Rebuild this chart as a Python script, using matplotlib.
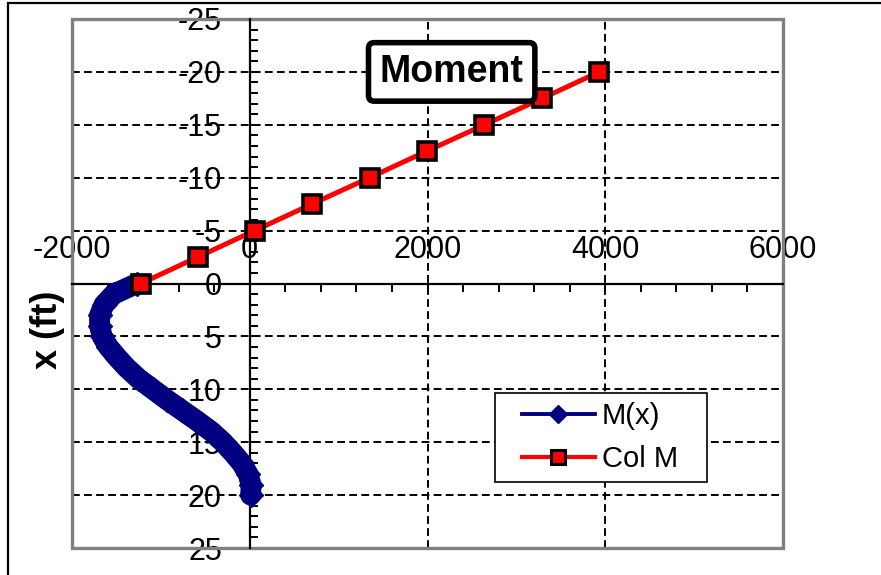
import matplotlib.pyplot as plt
from matplotlib.lines import Line2D
from matplotlib.patches import Rectangle
from matplotlib.ticker import MultipleLocator
from matplotlib.legend_handler import HandlerLine2D

plt.rcParams['font.family'] = ['Liberation Sans', 'DejaVu Sans']
plt.rcParams['axes.unicode_minus'] = False

# M(x) curve: depth x (ft) and moment
mx_depth = [0, 1, 2, 3, 4, 5, 6, 7, 8, 9, 10,
            11, 12, 13, 14, 15, 16, 17, 18, 19, 20]
mx_moment = [-1270, -1530, -1640, -1690, -1690, -1660, -1590, -1490, -1380, -1250, -1090,
             -930, -760, -590, -430, -300, -190, -90, -20, 15, 10]

# column moment points
col_depth = [0, -2.5, -5, -7.5, -10, -12.5, -15, -17.5, -20]
col_moment = [-1225, -584, 56, 697, 1348, 1989, 2640, 3290, 3933]

x_ticks = [-2000, 0, 2000, 4000, 6000]
y_ticks = [-25, -20, -15, -10, -5, 0, 5, 10, 15, 20, 25]

navy = '#000080'
red = '#FF0000'

fig = plt.figure(figsize=(8.81, 5.75), dpi=100)
ax = fig.add_axes([72 / 881, 27 / 575, 711 / 881, 529 / 575])

# outer chart frame (cut off at right/bottom like the source)
fig.add_artist(Rectangle((8 / 881, -0.1), 1.2, 1.1 - 3 / 575, transform=fig.transFigure,
                         fill=False, edgecolor='black', lw=1.6))

# M(x): dense thick diamond trail
ax.plot(mx_moment, mx_depth, color=navy, lw=15, solid_capstyle='round',
        solid_joinstyle='round', zorder=3)
ax.plot(mx_moment, mx_depth, color=navy, lw=0, marker='D', ms=12, zorder=3)

# Col M
ax.plot(col_moment, col_depth, color=red, lw=3.6, marker='s', ms=13.5,
        markerfacecolor=red, markeredgecolor='black', mew=2.6, zorder=4)

ax.set_xlim(-2000, 6000)
ax.set_ylim(25, -25)
ax.set_xticks(x_ticks)
ax.set_yticks(y_ticks)
ax.xaxis.set_minor_locator(MultipleLocator(400))
ax.yaxis.set_minor_locator(MultipleLocator(1))

# axis lines crossing at the origin
ax.spines['top'].set_position(('data', 0))
ax.spines['left'].set_position(('data', 0))
for s in ['top', 'left']:
    ax.spines[s].set_linewidth(1.6)
    ax.spines[s].set_zorder(2.5)
ax.spines['bottom'].set_visible(False)
ax.spines['right'].set_visible(False)

ax.xaxis.set_ticks_position('top')
ax.yaxis.set_ticks_position('left')
ax.tick_params(axis='x', which='both', direction='in', width=1.4, length=6,
               labelsize=22, pad=13)
ax.tick_params(axis='y', which='both', direction='in', width=1.4, length=6,
               labelsize=22, pad=20)

ax.grid(True, which='major', color='black', linestyle=(0, (4, 2.2)), lw=1.4, zorder=1)
ax.set_axisbelow(True)

# gray plot-area border
ax.add_patch(Rectangle((0, 0), 1, 1, transform=ax.transAxes, fill=False,
                       edgecolor='#808080', lw=2.4, clip_on=False, zorder=2))

ax.text(-0.034, 0.412, 'x (ft)', transform=ax.transAxes, rotation=90,
        fontsize=26, fontweight='bold', ha='center', va='center')

ax.text(0.534, 0.9, 'Moment', transform=ax.transAxes, fontsize=27,
        fontweight='bold', ha='center', va='center', zorder=6,
        bbox=dict(boxstyle='round,pad=0.3,rounding_size=0.15', facecolor='white',
                  edgecolor='black', lw=4))

handles = [
    Line2D([], [], color=navy, lw=2.8, marker='D', ms=9),
    Line2D([], [], color=red, lw=3, marker='s', ms=10, markerfacecolor=red,
           markeredgecolor='black', mew=2.2),
]
leg = ax.legend(handles, ['M(x)', 'Col M'], loc='upper left',
                bbox_to_anchor=(0.595, 0.127, 0.298, 0.166), mode='expand',
                borderaxespad=0, fontsize=21,
                frameon=True, fancybox=False, edgecolor='black', framealpha=1,
                handlelength=3.1, handletextpad=0.25, labelspacing=0.5,
                borderpad=0.32,
                handler_map={Line2D: HandlerLine2D(xpad=0.6)})
leg.get_frame().set_linewidth(1.2)
leg.set_zorder(7)

fig.savefig('out.png', dpi=100)
